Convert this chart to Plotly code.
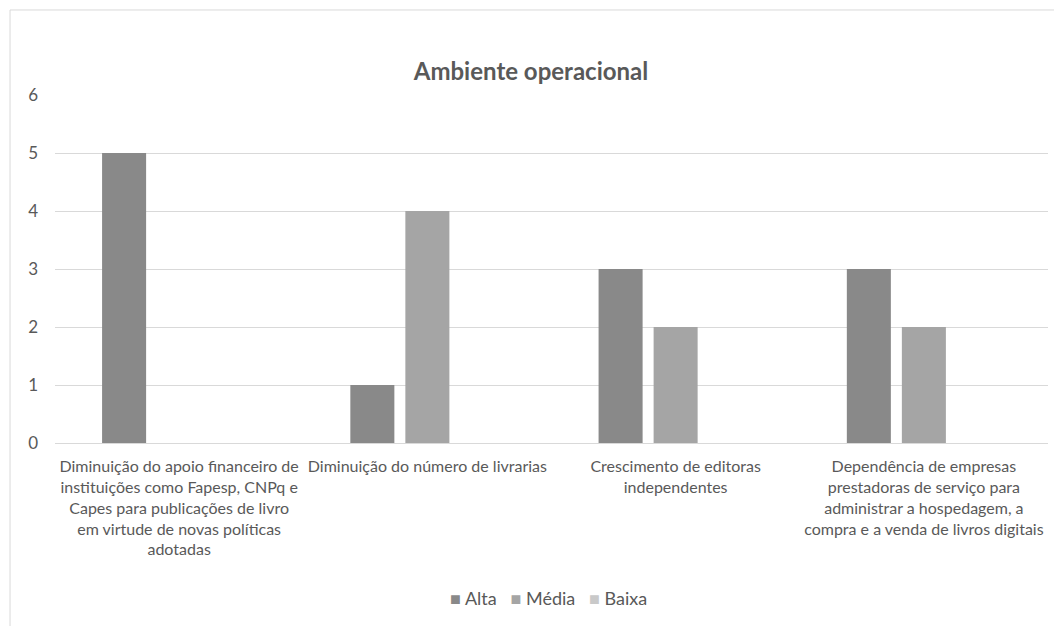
import plotly.graph_objects as go

categories = [
    "Diminuição do apoio financeiro de<br>instituições como Fapesp, CNPq e<br>Capes para publicações de livro<br>em virtude de novas políticas<br>adotadas",
    "Diminuição do número de livrarias",
    "Crescimento de editoras<br>independentes",
    "Dependência de empresas<br>prestadoras de serviço para<br>administrar a hospedagem, a<br>compra e a venda de livros digitais",
]
alta = [5, 1, 3, 3]
media = [0, 4, 2, 2]
baixa = [0, 0, 0, 0]
series_names = ["Alta", "Média", "Baixa"]
colors = ["#898989", "#a5a5a5", "#c9c9c9"]

fig = go.Figure()
for name, vals, col in zip(series_names, [alta, media, baixa], colors):
    fig.add_trace(go.Bar(x=categories, y=vals, name=name,
                         marker=dict(color=col, line=dict(width=0))))

legend_text = "&nbsp;&nbsp;&nbsp;".join(
    f"<span style='color:{c}'>■</span> {n}" for n, c in zip(series_names, colors)
)

fig.update_layout(
    width=1062, height=626,
    paper_bgcolor="white", plot_bgcolor="white",
    font=dict(family="Lato, Open Sans, sans-serif", size=16, color="#595959"),
    title=dict(text="<b>Ambiente operacional</b>", x=523/1062, xanchor="center",
               y=1 - 64/626, yanchor="middle",
               font=dict(size=24, color="#595959")),
    margin=dict(l=47, r=22, t=87, b=191),
    barmode="group", bargap=0.335, bargroupgap=0.2,
    showlegend=False,
    xaxis=dict(showgrid=False, showline=True, linecolor="#d9d9d9", linewidth=1,
               ticks="", ticklabelstandoff=9, tickangle=0,
               tickfont=dict(size=16, color="#595959"), automargin=False),
    yaxis=dict(range=[0, 6], dtick=1, showgrid=True, gridcolor="#d9d9d9",
               zeroline=False, showline=False, ticks="", ticklabelstandoff=16,
               tickfont=dict(size=17, color="#595959"), automargin=False),
    annotations=[dict(text=legend_text, xref="paper", yref="paper",
                      x=0.4965, y=-0.4454, xanchor="center", yanchor="middle",
                      showarrow=False, font=dict(size=18, color="#595959"))],
    shapes=[dict(type="rect", xref="paper", yref="paper",
                 x0=-0.0453, x1=1.05, y0=-0.7, y1=1.2443,
                 line=dict(color="#d9d9d9", width=1), fillcolor="rgba(0,0,0,0)",
                 layer="below")],
)

fig.write_html("out.html")
